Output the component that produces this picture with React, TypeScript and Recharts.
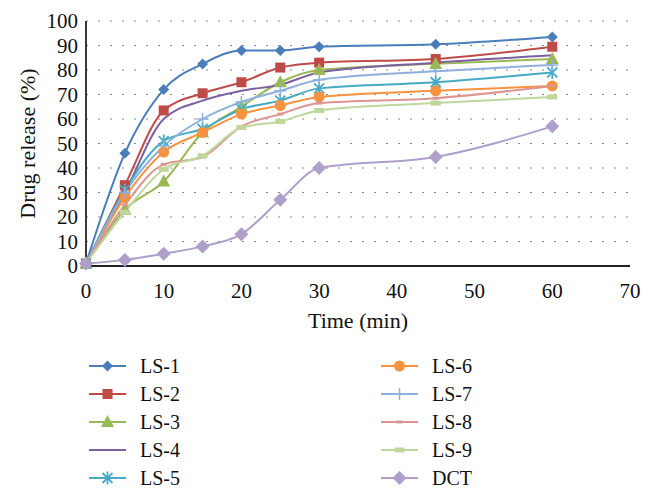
import { CartesianGrid, Label, Line, LineChart, XAxis, YAxis } from "recharts";

// sampling times (min)
const times = [0, 5, 10, 15, 20, 25, 30, 45, 60];

// cumulative drug release (%) per formulation
const ls1 = [1, 46, 72, 82.5, 88, 88, 89.5, 90.5, 93.5];
const ls2 = [1, 33, 63.5, 70.5, 75, 81, 83, 84.5, 89.5];
const ls3 = [1, 23, 34.5, 54.5, 65, 75, 80, 82.5, 84.5];
const ls4 = [1, 30, 60, 67.5, 71.5, 74, 79, 83, 86];
const ls5 = [1, 31, 51, 56, 64, 67.5, 72.5, 75, 79];
const ls6 = [1, 28, 46.5, 54.5, 62, 65.5, 69, 71.5, 73.5];
const ls7 = [1, 30, 49, 60, 67, 71.5, 76, 79.5, 82];
const ls8 = [1, 25, 41.5, 44.5, 57, 62, 66.5, 68.5, 73.5];
const ls9 = [1, 22, 39.5, 45, 56.5, 59, 63.5, 66.5, 69];
const dct = [1, 2.5, 5, 8, 13, 27, 40, 44.5, 57];

const xTicks = [0, 10, 20, 30, 40, 50, 60, 70];
const yTicks = [0, 10, 20, 30, 40, 50, 60, 70, 80, 90, 100];

type Kind = "diamond" | "square" | "triangle" | "none" | "star" | "circle" | "plus" | "dash" | "bar" | "bigdiamond";

const series: { key: string; name: string; values: number[]; color: string; kind: Kind }[] = [
  { key: "ls1", name: "LS-1", values: ls1, color: "#4a7ebb", kind: "diamond" },
  { key: "ls2", name: "LS-2", values: ls2, color: "#be4b48", kind: "square" },
  { key: "ls3", name: "LS-3", values: ls3, color: "#98b954", kind: "triangle" },
  { key: "ls4", name: "LS-4", values: ls4, color: "#7d60a0", kind: "none" },
  { key: "ls5", name: "LS-5", values: ls5, color: "#46aac5", kind: "star" },
  { key: "ls6", name: "LS-6", values: ls6, color: "#f69240", kind: "circle" },
  { key: "ls7", name: "LS-7", values: ls7, color: "#8eb0dc", kind: "plus" },
  { key: "ls8", name: "LS-8", values: ls8, color: "#dc9593", kind: "dash" },
  { key: "ls9", name: "LS-9", values: ls9, color: "#bfd79b", kind: "bar" },
  { key: "dct", name: "DCT", values: dct, color: "#ae9fcb", kind: "bigdiamond" },
];

const data = times.map((t, i) => {
  const row: Record<string, number> = { time: t };
  series.forEach((s) => {
    row[s.key] = s.values[i];
  });
  return row;
});

const FONT = "'Liberation Serif', 'Times New Roman', serif";

function Marker({ cx, cy, kind, color }: { cx: number; cy: number; kind: Kind; color: string }) {
  if (cx == null || cy == null) return null;
  switch (kind) {
    case "diamond":
      return <polygon points={`${cx},${cy - 5.5} ${cx + 5.5},${cy} ${cx},${cy + 5.5} ${cx - 5.5},${cy}`} fill={color} />;
    case "bigdiamond":
      return <polygon points={`${cx},${cy - 7} ${cx + 7},${cy} ${cx},${cy + 7} ${cx - 7},${cy}`} fill={color} />;
    case "square":
      return <rect x={cx - 5} y={cy - 5} width={10} height={10} fill={color} />;
    case "triangle":
      return <polygon points={`${cx},${cy - 7} ${cx + 6.5},${cy + 5} ${cx - 6.5},${cy + 5}`} fill={color} />;
    case "circle":
      return <circle cx={cx} cy={cy} r={5.5} fill={color} />;
    case "star":
      return (
        <g stroke={color} strokeWidth={1.8}>
          <line x1={cx - 5} y1={cy - 5} x2={cx + 5} y2={cy + 5} />
          <line x1={cx - 5} y1={cy + 5} x2={cx + 5} y2={cy - 5} />
          <line x1={cx} y1={cy - 6.5} x2={cx} y2={cy + 6.5} />
        </g>
      );
    case "plus":
      return (
        <g stroke={color} strokeWidth={1.5}>
          <line x1={cx - 6} y1={cy} x2={cx + 6} y2={cy} />
          <line x1={cx} y1={cy - 6} x2={cx} y2={cy + 6} />
        </g>
      );
    case "dash":
      return <rect x={cx - 3} y={cy - 1.5} width={6} height={3} fill={color} />;
    case "bar":
      return <rect x={cx - 5} y={cy - 2.5} width={10} height={5} fill={color} />;
    default:
      return null;
  }
}

function LegendItem({ name, color, kind }: { name: string; color: string; kind: Kind }) {
  return (
    <div style={{ display: "flex", alignItems: "center", height: 28 }}>
      <svg width={37} height={20} style={{ marginRight: 14 }}>
        <line x1={0} y1={10} x2={37} y2={10} stroke={color} strokeWidth={2} />
        <Marker cx={18.5} cy={10} kind={kind} color={color} />
      </svg>
      <span style={{ fontFamily: FONT, fontSize: 20, color: "#111" }}>{name}</span>
    </div>
  );
}

export default function App() {
  return (
    <div style={{ position: "absolute", left: 0, top: 0, width: 653, height: 498, background: "#fff" }}>
      <LineChart width={653} height={498} data={data} margin={{ top: 21, right: 23, left: 26, bottom: 172 }}>
        <CartesianGrid vertical={false} stroke="#888" strokeDasharray="2 10" />
        <XAxis
          type="number"
          dataKey="time"
          domain={[0, 70]}
          ticks={xTicks}
          height={60}
          axisLine={{ stroke: "#222", strokeWidth: 1.8 }}
          tickLine={false}
          tickMargin={11}
          tick={{ fill: "#111", fontSize: 21, fontFamily: FONT }}
        >
          <Label value="Time (min)" position="insideBottom" offset={-2} style={{ fill: "#111", fontSize: 22, fontFamily: FONT }} />
        </XAxis>
        <YAxis
          type="number"
          domain={[0, 100]}
          ticks={yTicks}
          width={60}
          interval={0}
          axisLine={{ stroke: "#222", strokeWidth: 1.8 }}
          tickLine={false}
          tick={{ fill: "#111", fontSize: 21, fontFamily: FONT }}
        >
          <Label
            value="Drug release (%)"
            angle={-90}
            position="insideLeft"
            offset={1}
            style={{ textAnchor: "middle", fill: "#111", fontSize: 22, fontFamily: FONT }}
          />
        </YAxis>
        {series.map((s) => (
          <Line
            key={s.key}
            dataKey={s.key}
            name={s.name}
            type="monotone"
            stroke={s.color}
            strokeWidth={2}
            isAnimationActive={false}
            dot={(p: any) => <Marker key={`${s.key}-${p.index}`} cx={p.cx} cy={p.cy} kind={s.kind} color={s.color} />}
            activeDot={false}
          />
        ))}
      </LineChart>
      <div style={{ position: "absolute", left: 89, top: 352 }}>
        {series.slice(0, 5).map((s) => (
          <LegendItem key={s.key} name={s.name} color={s.color} kind={s.kind} />
        ))}
      </div>
      <div style={{ position: "absolute", left: 381, top: 352 }}>
        {series.slice(5).map((s) => (
          <LegendItem key={s.key} name={s.name} color={s.color} kind={s.kind} />
        ))}
      </div>
    </div>
  );
}
